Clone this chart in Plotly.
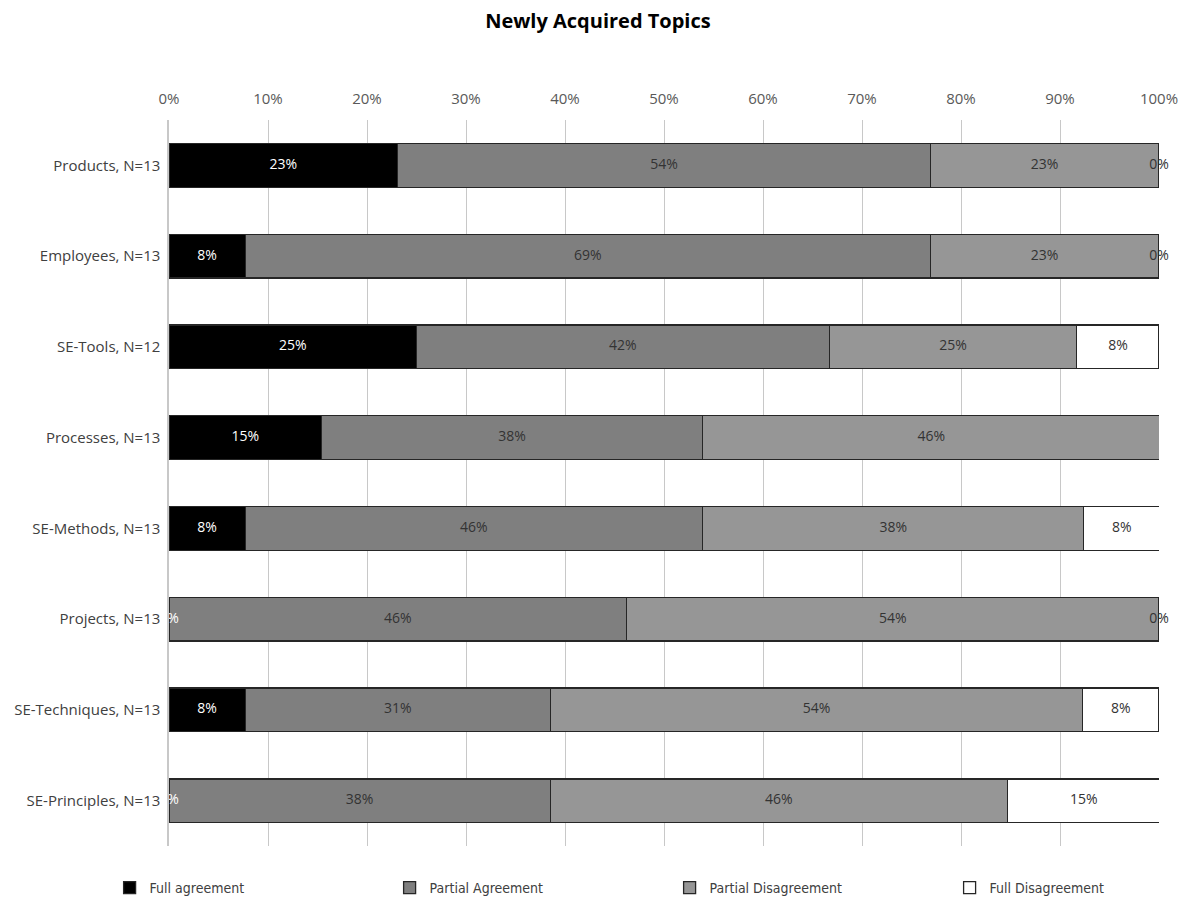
import numpy as np
import plotly.graph_objects as go

categories = ["Products, N=13", "Employees, N=13", "SE-Tools, N=12", "Processes, N=13",
              "SE-Methods, N=13", "Projects, N=13", "SE-Techniques, N=13", "SE-Principles, N=13"]
series_names = ["Full agreement", "Partial Agreement", "Partial Disagreement", "Full Disagreement"]
full_agreement = [0.231, 0.077, 0.250, 0.154, 0.077, 0.000, 0.077, 0.000]
partial_agreement = [0.538, 0.692, 0.417, 0.385, 0.462, 0.462, 0.308, 0.385]
partial_disagreement = [0.231, 0.231, 0.250, 0.462, 0.385, 0.538, 0.538, 0.462]
full_disagreement = [0.000, 0.000, 0.083, 0.000, 0.077, 0.000, 0.077, 0.154]
x_ticks = [0, 0.1, 0.2, 0.3, 0.4, 0.5, 0.6, 0.7, 0.8, 0.9, 1.0]

series_values = [full_agreement, partial_agreement, partial_disagreement, full_disagreement]
fill_colors = ["#000000", "#7f7f7f", "#969696", "#ffffff"]
label_colors = ["#ffffff", "#333333", "#333333", "#333333"]
FONT = "Open Sans"

fig = go.Figure()
for name, vals, col in zip(series_names, series_values, fill_colors):
    fig.add_trace(go.Bar(
        y=categories, x=vals, name=name, orientation="h",
        marker=dict(color=col, line=dict(color="#262626", width=1.3)),
        hoverinfo="x+y+name",
    ))

arr = np.array(series_values)
cum = np.cumsum(arr, axis=0)
for i in range(len(series_values)):
    centers = cum[i] - arr[i] / 2
    fig.add_trace(go.Scatter(
        x=centers, y=categories, mode="text",
        text=[f"{v*100:.0f}%" for v in arr[i]],
        textfont=dict(family=FONT, size=14, color=label_colors[i]),
        textposition="middle center",
        showlegend=False, hoverinfo="skip", cliponaxis=False,
    ))

fig.update_layout(
    barmode="stack",
    bargap=0.52,
    width=1184, height=898,
    margin=dict(l=169, r=25, t=120, b=52, autoexpand=False),
    paper_bgcolor="white", plot_bgcolor="white",
    font=dict(family=FONT, size=14, color="#404040"),
    title=dict(text="<b>Newly Acquired Topics</b>", x=0.505, xanchor="center",
               y=0.977, yanchor="middle", font=dict(family=FONT, size=20, color="#000000")),
    xaxis=dict(side="top", range=[0, 1], tickvals=x_ticks, tickformat=".0%",
               showgrid=True, gridcolor="#c8c8c8", gridwidth=1, zeroline=False,
               showline=False, ticks="", ticklabelstandoff=12,
               tickfont=dict(family=FONT, size=15, color="#595959"),
               fixedrange=True, automargin=False),
    yaxis=dict(categoryorder="array", categoryarray=categories, autorange="reversed",
               showline=True, linecolor="#c8c8c8", linewidth=1.5, ticks="",
               ticksuffix=" ", tickfont=dict(family=FONT, size=15, color="#404040"),
               showgrid=False, automargin=False),
    legend=dict(orientation="h", x=-0.06, xanchor="left", y=-0.058, yanchor="middle",
                traceorder="normal", entrywidth=235, entrywidthmode="pixels",
                font=dict(family="DejaVu Sans Condensed, Open Sans", size=14, color="#404040"),
                itemwidth=30),
    showlegend=True,
)
fig.write_html("out.html")
